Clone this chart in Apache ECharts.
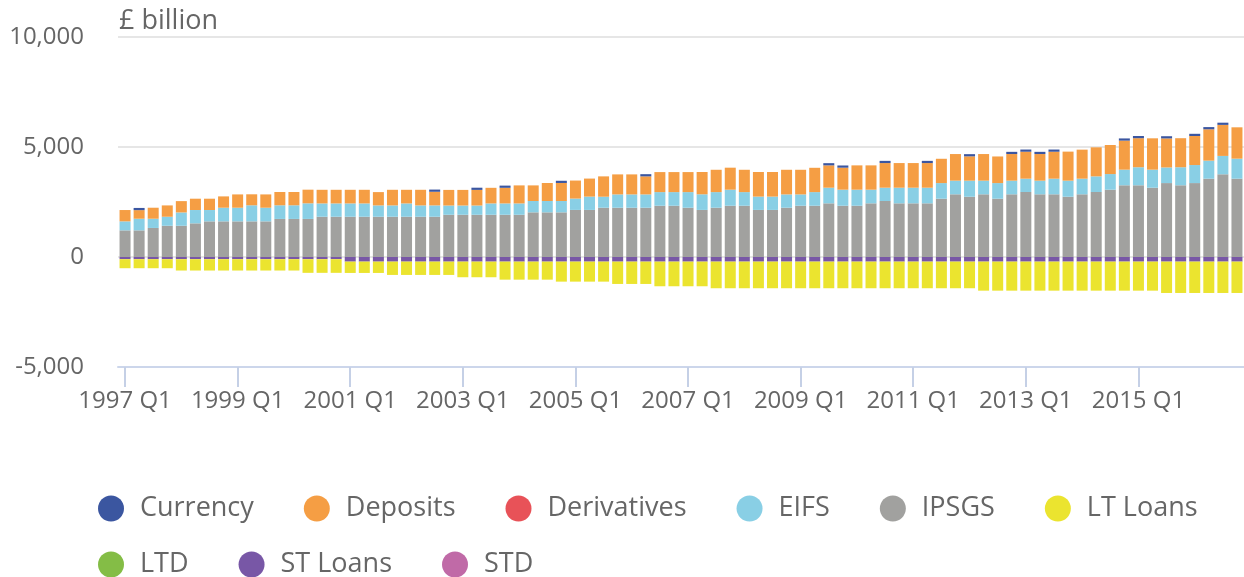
<!DOCTYPE html>
<html>
<head>
<meta charset="utf-8">
<script src="https://cdn.jsdelivr.net/npm/echarts@6/dist/echarts.min.js"></script>
<style>
html,body{margin:0;padding:0;background:#fff;}
#chart{width:1244px;height:577px;}
</style>
</head>
<body>
<div id="chart"></div>
<script>
const categories = [
  '1997 Q1','1997 Q2','1997 Q3','1997 Q4','1998 Q1','1998 Q2','1998 Q3','1998 Q4',
  '1999 Q1','1999 Q2','1999 Q3','1999 Q4','2000 Q1','2000 Q2','2000 Q3','2000 Q4',
  '2001 Q1','2001 Q2','2001 Q3','2001 Q4','2002 Q1','2002 Q2','2002 Q3','2002 Q4',
  '2003 Q1','2003 Q2','2003 Q3','2003 Q4','2004 Q1','2004 Q2','2004 Q3','2004 Q4',
  '2005 Q1','2005 Q2','2005 Q3','2005 Q4','2006 Q1','2006 Q2','2006 Q3','2006 Q4',
  '2007 Q1','2007 Q2','2007 Q3','2007 Q4','2008 Q1','2008 Q2','2008 Q3','2008 Q4',
  '2009 Q1','2009 Q2','2009 Q3','2009 Q4','2010 Q1','2010 Q2','2010 Q3','2010 Q4',
  '2011 Q1','2011 Q2','2011 Q3','2011 Q4','2012 Q1','2012 Q2','2012 Q3','2012 Q4',
  '2013 Q1','2013 Q2','2013 Q3','2013 Q4','2014 Q1','2014 Q2','2014 Q3','2014 Q4',
  '2015 Q1','2015 Q2','2015 Q3','2015 Q4','2016 Q1','2016 Q2','2016 Q3','2016 Q4'
];

const currency = [
  0,100,0,0,0,0,0,0,0,0,
  0,0,0,0,0,0,0,0,0,0,
  0,0,100,0,0,100,0,100,0,0,
  0,100,0,0,0,0,0,100,0,0,
  0,0,0,0,0,0,0,0,0,0,
  100,100,0,0,100,0,0,100,0,0,
  100,0,0,100,100,100,100,0,0,0,
  0,100,100,0,100,0,100,100,100,0
];
const deposits = [
  515,390,500,515,515,515,515,515,605,500,
  605,605,605,620,620,620,620,620,605,710,
  620,710,620,710,710,710,710,710,820,710,
  820,820,820,820,925,910,910,820,910,910,
  910,1015,1015,1000,1015,1120,1120,1120,1120,1105,
  1015,1000,1105,1105,1120,1120,1120,1120,1105,1210,
  1105,1210,1210,1210,1225,1210,1225,1320,1320,1320,
  1320,1320,1320,1425,1320,1320,1320,1425,1410,1425
];
const derivatives = [
  0,0,0,0,0,0,0,0,0,0, 0,0,0,0,0,0,0,0,0,0,
  0,0,0,0,0,0,0,0,0,0, 0,0,0,0,0,0,0,0,0,0,
  0,0,0,0,0,0,0,0,0,0, 0,0,0,0,0,0,0,0,0,0,
  0,0,0,0,0,0,0,0,0,0, 0,0,0,0,0,0,0,0,0,0
];
const eifs = [
  410,530,420,410,605,605,515,620,620,730,
  620,620,620,710,605,605,605,605,515,515,
  605,515,515,420,420,420,515,515,515,515,
  515,515,515,605,500,605,605,605,620,620,
  710,710,710,730,620,605,605,605,515,620,
  710,730,730,620,605,710,710,710,710,620,
  730,620,710,620,605,620,710,730,710,710,
  710,710,820,820,710,820,820,820,835,910
];
const ipsgs = [
  1210,1210,1320,1420,1420,1530,1620,1620,1620,1620,
  1620,1730,1730,1730,1830,1830,1830,1830,1830,1830,
  1830,1830,1830,1920,1920,1920,1920,1920,1920,2030,
  2030,2030,2140,2140,2240,2240,2240,2240,2330,2330,
  2240,2140,2240,2330,2330,2140,2140,2240,2330,2330,
  2440,2330,2330,2440,2545,2440,2440,2440,2650,2850,
  2740,2850,2650,2850,2955,2850,2850,2740,2850,2955,
  3060,3260,3260,3150,3360,3260,3360,3560,3760,3560
];
const ltLoans = [
  -410,-410,-410,-410,-515,-515,-515,-515,-515,-515,
  -515,-515,-515,-620,-620,-620,-515,-515,-515,-605,
  -605,-605,-605,-605,-710,-710,-710,-820,-820,-820,
  -820,-910,-910,-910,-910,-1015,-1015,-1015,-1120,-1120,
  -1120,-1120,-1210,-1210,-1210,-1210,-1210,-1210,-1210,-1210,
  -1210,-1210,-1210,-1210,-1210,-1210,-1210,-1210,-1210,-1210,
  -1210,-1320,-1320,-1320,-1320,-1320,-1320,-1320,-1320,-1320,
  -1320,-1320,-1320,-1320,-1425,-1425,-1425,-1425,-1425,-1425
];
const ltd = [
  0,0,0,0,0,0,0,0,0,0, 0,0,0,0,0,0,0,0,0,0,
  0,0,0,0,0,0,0,0,0,0, 0,0,0,0,0,0,0,0,0,0,
  0,0,0,0,0,0,0,0,0,0, 0,0,0,0,0,0,0,0,0,0,
  0,0,0,0,0,0,0,0,0,0, 0,0,0,0,0,0,0,0,0,0
];
const stLoans = [
  -100,-100,-100,-100,-100,-100,-100,-100,-100,-100,
  -100,-100,-100,-100,-100,-100,-210,-210,-210,-210,
  -210,-210,-210,-210,-210,-210,-210,-210,-210,-210,
  -210,-210,-210,-210,-210,-210,-210,-210,-210,-210,
  -210,-210,-210,-210,-210,-210,-210,-210,-210,-210,
  -210,-210,-210,-210,-210,-210,-210,-210,-210,-210,
  -210,-210,-210,-210,-210,-210,-210,-210,-210,-210,
  -210,-210,-210,-210,-210,-210,-210,-210,-210,-210
];
const std = [
  0,0,0,0,0,0,0,0,0,0, 0,0,0,0,0,0,0,0,0,0,
  0,0,0,0,0,0,0,0,0,0, 0,0,0,0,0,0,0,0,0,0,
  0,0,0,0,0,0,0,0,0,0, 0,0,0,0,0,0,0,0,0,0,
  0,0,0,0,0,0,0,0,0,0, 0,0,0,0,0,0,0,0,0,0
];
const yTicks = { min: -5000, max: 10000, interval: 5000 };

const colors = {
  'Currency': '#3b56a0',
  'Deposits': '#f59e44',
  'Derivatives': '#e85258',
  'EIFS': '#89cfe5',
  'IPSGS': '#a1a19f',
  'LT Loans': '#ebe42f',
  'LTD': '#84bd46',
  'ST Loans': '#7857a6',
  'STD': '#c06aa7'
};

// stacking order: first series drawn nearest zero
const stackOrder = [
  ['IPSGS', ipsgs], ['EIFS', eifs], ['Deposits', deposits], ['Currency', currency],
  ['Derivatives', derivatives], ['ST Loans', stLoans], ['LT Loans', ltLoans],
  ['LTD', ltd], ['STD', std]
];

const FONT = 'Open Sans';
const TXT = '#666666';

const legendBase = {
  icon: 'circle', itemWidth: 26, itemHeight: 26, itemGap: 50, left: 98,
  padding: 0,
  textStyle: { fontFamily: FONT, fontSize: 27, lineHeight: 26, color: TXT, padding: [3, 0, 0, 11] }
};

const chart = echarts.init(document.getElementById('chart'), null, { renderer: 'canvas' });
chart.setOption({
  animation: false,
  backgroundColor: '#ffffff',
  title: {
    text: '£ billion', left: 114, top: 3,
    textStyle: { fontFamily: FONT, fontSize: 27, fontWeight: 'normal', color: TXT }
  },
  legend: [
    Object.assign({}, legendBase, { top: 494, data: ['Currency', 'Deposits', 'Derivatives', 'EIFS', 'IPSGS', 'LT Loans'] }),
    Object.assign({}, legendBase, { top: 550, data: ['LTD', 'ST Loans', 'STD'] })
  ],
  grid: { left: 118, top: 37, width: 1134, height: 330 },
  xAxis: {
    type: 'category',
    data: categories,
    boundaryGap: true,
    axisLine: { show: true, onZero: false, lineStyle: { color: '#ccd6eb', width: 2 } },
    axisTick: { show: true, alignWithLabel: true, interval: 7, length: 20, lineStyle: { color: '#c5d0e6', width: 2 } },
    axisLabel: { show: true, interval: 7, fontFamily: FONT, fontSize: 24, color: TXT, margin: 22 }
  },
  yAxis: {
    type: 'value',
    min: yTicks.min, max: yTicks.max, interval: yTicks.interval,
    axisLine: { show: false },
    axisTick: { show: false },
    splitLine: { lineStyle: { color: '#e6e6e6', width: 2 } },
    axisLabel: {
      fontFamily: FONT, fontSize: 24, color: TXT, margin: 34, padding: [5, 0, 0, 0],
      formatter: v => v.toLocaleString('en-US')
    }
  },
  series: stackOrder.map(([name, data]) => ({
    name, type: 'bar', stack: 'total', data,
    barWidth: 11,
    itemStyle: { color: colors[name] },
    emphasis: { disabled: true }
  }))
});
</script>
</body>
</html>
